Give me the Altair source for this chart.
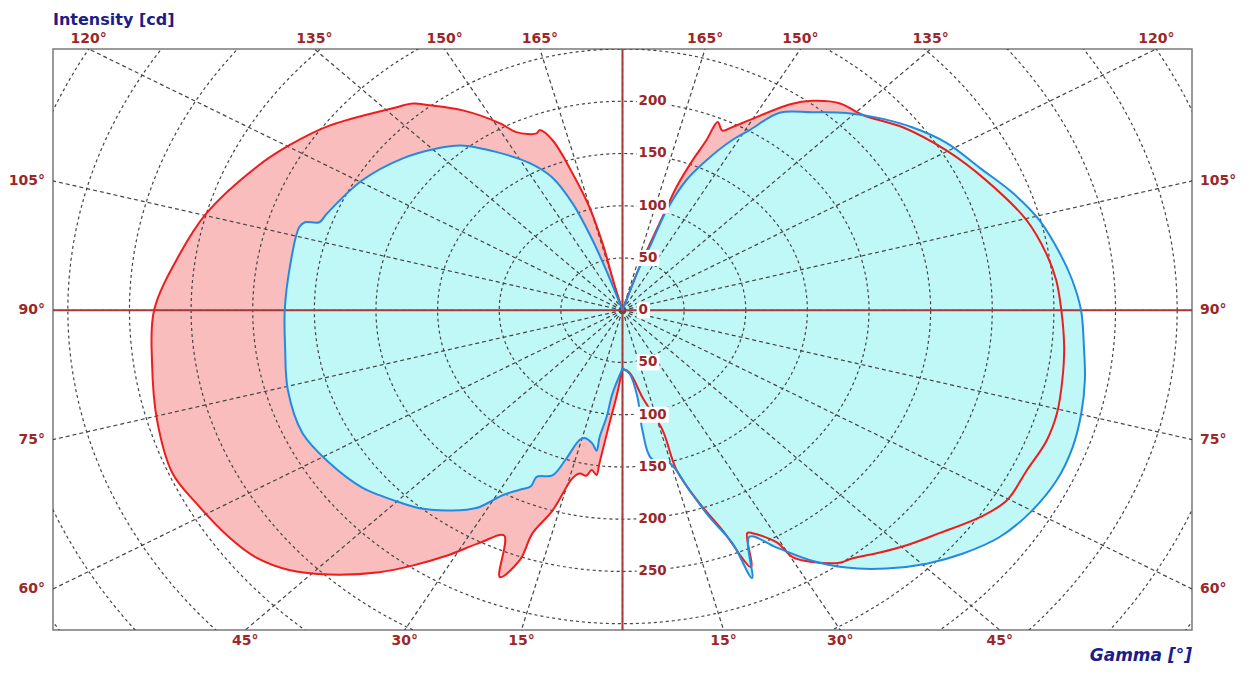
import altair as alt
import numpy as np
import pandas as pd

# ---------------- data (gamma in degrees from nadir, intensity in cd) ----------------
# right half-plane, listed from gamma 180 (zenith) down to gamma 0 (nadir)
red_right_gamma = [180, 162, 161.5, 160, 159.6, 158.4, 157.3, 156.8, 154.8, 153, 150.5, 145.5, 142.4,
                   138.4, 133.8, 127.6, 120.2, 112.9, 104.7, 99, 94.7, 90, 84.4, 79.4, 74.4, 70.1, 64.9,
                   59.7, 55.6, 50.3, 45.7, 42, 38.2, 36.1, 32.6, 30.3, 29.4, 26.3, 25.4, 23, 21.1, 18.7,
                   16, 15.8, 11, 5.5, 0]
red_right_cd = [0, 10, 43, 95, 126, 154, 176, 196, 190, 197, 209, 239, 253,
                265, 270, 287, 304, 320, 339, 348, 353, 356, 360, 363, 366, 366, 362,
                361, 351, 334, 322, 312, 302, 299, 286, 274, 255, 238, 236, 267, 226, 195,
                159, 119, 85, 60, 56]

blue_right_gamma = [180, 162, 161.5, 160, 159.5, 157.4, 154.6, 151.3, 149.1, 146, 140.9, 136.1, 131.4,
                    126.7, 121.3, 115.3, 109.5, 104.3, 98.7, 94.5, 90, 84.6, 79.9, 75.2, 70.2, 65.2,
                    59.5, 54.6, 49.8, 45.5, 40.9, 36.4, 32.4, 28.8, 25.4, 22.3, 21.8, 19.6, 17.5, 14.6,
                    9.4, 8, 8.3, 5.4, 0]
blue_right_cd = [0, 10, 43, 64, 102, 135, 159, 186, 201, 228, 244, 262, 278,
                 293, 308, 320, 336, 349, 359, 366, 372, 376, 381, 385, 388, 388,
                 383, 375, 361, 346, 327, 306, 283, 259, 240, 277, 240, 210, 181, 151,
                 144, 116, 84, 61, 56]

# left half-plane, listed from gamma 0 (nadir) up to gamma 180 (zenith)
red_left_gamma = [0, 3.4, 5.6, 7.3, 7.6, 9.3, 10.5, 12.6, 14.2, 16.5, 18.9, 19.2, 21.3, 24.0, 27.5,
                  31.3, 34.9, 38.2, 43.2, 47.3, 51.5, 55.7, 61.9, 66.9, 74.4, 82.4, 90, 98.6, 105.4,
                  114.8, 120.3, 126.7, 136.7, 139.3, 141.4, 145.9, 150.9, 153.2, 157.6, 158.7, 160.8,
                  162.8, 164.8, 165.8, 165, 180]
red_left_cd = [56, 83, 109, 148, 159, 155, 161, 160, 166, 200, 226, 253, 274, 236, 251,
               275, 298, 319, 347, 367, 380, 386, 392, 397, 392, 385, 380, 363, 350,
               327, 313, 296, 267, 261, 251, 231, 205, 191, 183, 185, 172,
               137, 102, 66, 25, 0]

blue_left_gamma = [0, 5.8, 7.2, 8.7, 8.9, 10.8, 14.1, 15.7, 17.8, 19.8, 23.6, 23.8, 25.9, 28.8, 31.6,
                   33.5, 36.7, 41.0, 44.6, 48.1, 51.2, 58.4, 65.6, 74.3, 82.6, 90, 98.7, 106.9, 108.1,
                   108.9, 111.1, 120.5, 129.2, 135.8, 140.3, 145.9, 151.8, 155.9, 158.4, 160.1, 161, 180]
blue_left_cd = [56, 80, 103, 123, 136, 130, 126, 129, 149, 168, 174, 184, 191, 202, 221,
                229, 239, 251, 258, 265, 271, 279, 285, 282, 276, 274, 273, 274, 271,
                260, 257, 245, 230, 216, 205, 183, 160, 139, 110, 71, 36, 0]

top_angle_labels = [120, 135, 150, 165]
side_angle_labels = [105, 90, 75, 60]
bottom_angle_labels = [45, 30, 15]
intensity_labels_up = [0, 50, 100, 150, 200]
intensity_labels_down = [50, 100, 150, 200, 250]
grid_radii = list(range(50, 701, 50))
grid_angles = list(range(0, 360, 15))

# ---------------- layout constants ----------------
X_MAX, Y_TOP, Y_BOT = 462, 250, -306
W, H = 1139, 581
PX_X = W / (2 * X_MAX)
PX_Y = H / (Y_TOP - Y_BOT)

AXIS_RED = "#a53a3a"
LABEL_RED = "#9a2828"
GRID = "#454545"
NAVY = "#1d1d8a"
FONT = "DejaVu Sans"
INTERP = "catmull-rom"


def curve_rows(name, gr, cr, gl, cl):
    rows = []
    for g, c in zip(gr, cr):
        rows.append(dict(series=name, idx=len(rows), gamma=g, cd=c, side=1))
    for g, c in zip(gl, cl):
        rows.append(dict(series=name, idx=len(rows), gamma=g, cd=c, side=-1))
    return rows


red_df = pd.DataFrame(curve_rows("red", red_right_gamma, red_right_cd, red_left_gamma, red_left_cd))
blue_df = pd.DataFrame(curve_rows("blue", blue_right_gamma, blue_right_cd, blue_left_gamma, blue_left_cd))

xs = alt.Scale(domain=[-X_MAX, X_MAX], nice=False, zero=False)
ys = alt.Scale(domain=[Y_BOT, Y_TOP], nice=False, zero=False)
X = alt.X("x:Q", scale=xs, axis=None)
Y = alt.Y("y:Q", scale=ys, axis=None)


def polar(chart):
    return chart.transform_calculate(
        x="datum.side * datum.cd * sin(datum.gamma * PI / 180)",
        y="-datum.cd * cos(datum.gamma * PI / 180)",
    )


red_fill = polar(alt.Chart(red_df)).mark_line(
    fill="#f9bdbd", stroke="transparent", strokeWidth=0, interpolate=INTERP
).encode(x=X, y=Y, order="idx:Q")
blue_fill = polar(alt.Chart(blue_df)).mark_line(
    fill="#c0f8f8", stroke="transparent", strokeWidth=0, interpolate=INTERP
).encode(x=X, y=Y, order="idx:Q")
red_line = polar(alt.Chart(red_df)).mark_line(
    stroke="#ee1d1d", strokeWidth=2, strokeJoin="round", interpolate=INTERP
).encode(x=X, y=Y, order="idx:Q")
blue_line = polar(alt.Chart(blue_df)).mark_line(
    stroke="#238ae0", strokeWidth=2, strokeJoin="round", interpolate=INTERP
).encode(x=X, y=Y, order="idx:Q")

# grid circles
circ_rows = []
for r in grid_radii:
    for k, a in enumerate(np.arange(0, 361, 2)):
        t = np.radians(a)
        circ_rows.append(dict(r=r, idx=k, x=r * np.cos(t), y=r * np.sin(t)))
circ_df = pd.DataFrame(circ_rows)
circles = alt.Chart(circ_df).mark_line(
    stroke=GRID, strokeWidth=1.2, strokeDash=[3, 3], clip=True
).encode(x=X, y=Y, detail="r:N", order="idx:Q")

# radial grid lines
rad_rows = []
for a in grid_angles:
    t = np.radians(a)
    rad_rows.append(dict(x=0.0, y=0.0, x2=900 * np.sin(t), y2=-900 * np.cos(t)))
rad_df = pd.DataFrame(rad_rows)
radials = alt.Chart(rad_df).mark_rule(
    stroke=GRID, strokeWidth=1.2, strokeDash=[4, 3], clip=True
).encode(x=X, y=Y, x2="x2:Q", y2="y2:Q")

# main axes (solid dark red)
axes_df = pd.DataFrame([
    dict(x=-X_MAX, y=0, x2=X_MAX, y2=0),
    dict(x=0, y=Y_BOT, x2=0, y2=Y_TOP),
])
axes = alt.Chart(axes_df).mark_rule(stroke=AXIS_RED, strokeWidth=2).encode(
    x=X, y=Y, x2="x2:Q", y2="y2:Q")

# intensity labels with white boxes
int_rows = []
for v in intensity_labels_up:
    int_rows.append(dict(x=0, y=v, text=str(v)))
for v in intensity_labels_down:
    int_rows.append(dict(x=0, y=-v, text=str(v)))
int_df = pd.DataFrame(int_rows)
int_df["bx"] = 11.5
int_df["bx2"] = 11.5 + (int_df["text"].str.len() * 9.4 + 4) / PX_X
int_df["by"] = int_df["y"] - 8 / PX_Y
int_df["by2"] = int_df["y"] + 8 / PX_Y
int_box = alt.Chart(int_df).mark_rect(fill="white").encode(
    x=X, y=alt.Y("by:Q", scale=ys, axis=None), x2="bx2:Q", y2="by2:Q"
).transform_calculate(x="datum.bx")
int_text = alt.Chart(int_df).mark_text(
    align="left", baseline="middle", dx=16, font=FONT, fontSize=13.5, fontWeight="bold", color=LABEL_RED
).encode(x=X, y=Y, text="text:N")

# angle labels
top_df = pd.DataFrame([dict(x=s * Y_TOP * np.tan(np.radians(180 - g)), y=Y_TOP, text=f"{g}°")
                       for g in top_angle_labels for s in (-1, 1)])
right_df = pd.DataFrame([dict(x=X_MAX, y=X_MAX * np.tan(np.radians(g - 90)), text=f"{g}°")
                         for g in side_angle_labels])
left_df = pd.DataFrame([dict(x=-X_MAX, y=X_MAX * np.tan(np.radians(g - 90)), text=f"{g}°")
                        for g in side_angle_labels])
bot_df = pd.DataFrame([dict(x=s * (-Y_BOT) * np.tan(np.radians(g)), y=Y_BOT, text=f"{g}°")
                       for g in bottom_angle_labels for s in (-1, 1)])

lab_kw = dict(font=FONT, fontSize=14, fontWeight="bold", color=LABEL_RED, baseline="middle")
top_text = alt.Chart(top_df).mark_text(align="center", dy=-10, **lab_kw).encode(x=X, y=Y, text="text:N")
right_text = alt.Chart(right_df).mark_text(align="left", dx=8, **lab_kw).encode(x=X, y=Y, text="text:N")
left_text = alt.Chart(left_df).mark_text(align="right", dx=-8, **lab_kw).encode(x=X, y=Y, text="text:N")
bot_text = alt.Chart(bot_df).mark_text(align="center", dy=11, **lab_kw).encode(x=X, y=Y, text="text:N")

# titles
title_df = pd.DataFrame([dict(x=-X_MAX, y=Y_TOP, text="Intensity [cd]")])
gamma_df = pd.DataFrame([dict(x=X_MAX, y=Y_BOT, text="Gamma [°]")])
title_text = alt.Chart(title_df).mark_text(
    align="left", baseline="middle", dy=-29, font=FONT, fontSize=16, fontWeight="bold", color=NAVY
).encode(x=X, y=Y, text="text:N")
gamma_text = alt.Chart(gamma_df).mark_text(
    align="right", baseline="middle", dy=26, font=FONT, fontSize=17, fontWeight="bold",
    fontStyle="italic", color=NAVY
).encode(x=X, y=Y, text="text:N")

chart = alt.layer(
    red_fill, blue_fill, circles, radials, axes, red_line, blue_line,
    int_box, int_text, top_text, right_text, left_text, bot_text, title_text, gamma_text
).properties(
    width=W, height=H,
    padding={"left": 45, "top": 41, "right": 50, "bottom": 34},
    autosize=alt.AutoSizeParams(type="none"),
    background="white",
).configure_view(stroke="#7a7a7a", strokeWidth=1.5)

chart.save("out.html", embed_options={"renderer": "svg", "actions": False})
